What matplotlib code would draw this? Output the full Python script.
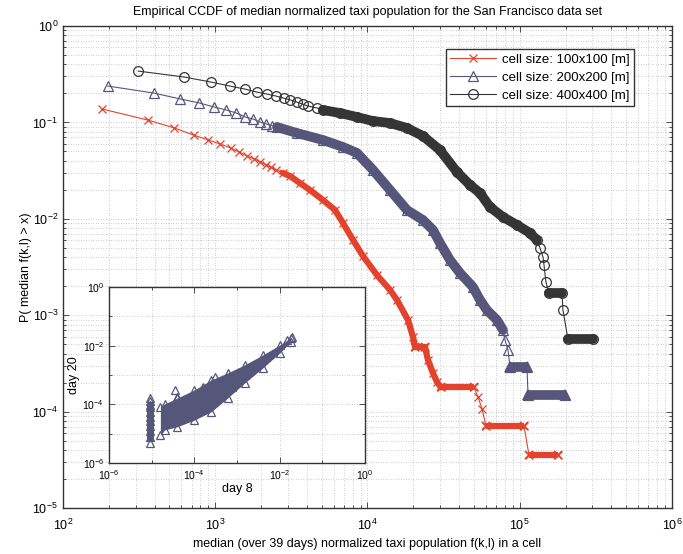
import numpy as np
import matplotlib.pyplot as plt
from matplotlib.ticker import LogLocator, NullFormatter

plt.rcParams['font.family'] = ['Liberation Sans', 'DejaVu Sans']
plt.rcParams['mathtext.fontset'] = 'custom'
plt.rcParams['mathtext.rm'] = 'Liberation Sans'

RED = '#e3422c'
BLUE = '#56567a'
BLACK = '#353535'
GRID = '#8c8c8c'

# CCDF, 100x100 m cells
x100 = [180, 360, 540, 720, 900, 1080, 1260, 1440, 1620, 1800, 1980, 2160, 2340, 2520,
        2786, 3097, 3603, 4190, 5102, 6116, 6904, 8035, 9340, 11540, 14060, 15620, 18460,
        19900, 20500, 23870, 24960, 26920, 28610, 30380, 50070, 53170, 56520, 60000,
        106600, 115000, 178300]
y100 = [0.138, 0.106, 0.0875, 0.074, 0.0657, 0.0597, 0.0543, 0.0494, 0.0448, 0.0418, 0.0388,
        0.0362, 0.0341, 0.0322, 0.0299, 0.0278, 0.0235, 0.0199, 0.01567, 0.01234, 0.00904,
        0.00603, 0.00411, 0.00261, 0.00183, 0.00144, 0.000891, 0.000594, 0.000468, 0.000468,
        0.000343, 0.000251, 0.000203, 0.000178, 0.000178, 0.000142, 0.000107, 7.1e-5,
        7.1e-5, 3.55e-5, 3.55e-5]

# CCDF, 200x200 m cells
x200 = [197, 394, 591, 788, 985, 1182, 1379, 1576, 1773, 1970, 2167, 2364, 2544, 3443,
        5102, 6904, 8531, 10870, 14060, 18170, 23140, 26920, 29920, 34830, 40510, 49310,
        54810, 60920, 70900, 77620, 80000, 83750, 86300, 111600, 113300, 198200]
y200 = [0.2385, 0.2018, 0.175, 0.159, 0.1445, 0.1345, 0.1252, 0.1138, 0.1084, 0.1009,
        0.0962, 0.0925, 0.0896, 0.0776, 0.0657, 0.0556, 0.0482, 0.0321, 0.0199, 0.01234,
        0.00972, 0.00766, 0.00561, 0.00374, 0.00274, 0.00196, 0.00144, 0.00113, 0.000891,
        0.000702, 0.000553, 0.000435, 0.00029, 0.00029, 0.0001486, 0.0001486]

# CCDF, 400x400 m cells
x400 = [312, 624, 936, 1248, 1560, 1872, 2184, 2496, 2808, 3120, 3432, 3744, 4056, 4680,
        5102, 6597, 8531, 10870, 14060, 18170, 23140, 29920, 38700, 47110, 54810, 63760,
        77620, 95920, 116700, 129700, 135800, 142200, 144300, 148600, 155600, 189300,
        192200, 207300, 302700]
y400 = [0.341, 0.296, 0.2625, 0.2385, 0.222, 0.2067, 0.197, 0.188, 0.179, 0.1708, 0.1628,
        0.155, 0.148, 0.141, 0.1345, 0.1252, 0.1138, 0.1034, 0.0986, 0.0875, 0.0723, 0.0517,
        0.0306, 0.02243, 0.01852, 0.01325, 0.01044, 0.00863, 0.00713, 0.00603, 0.00498,
        0.00402, 0.00332, 0.00221, 0.00169, 0.00169, 0.00113, 0.000565, 0.000565]

# day 8 vs day 20 scatter: envelope of the dense cloud
day8_x = [1.6e-5, 2.0e-5, 4e-5, 1e-4, 2.5e-4, 6e-4, 1.5e-3, 4e-3, 1e-2, 1.8e-2]
day20_hi = [8.3e-5, 1.03e-4, 1.64e-4, 3.1e-4, 6.8e-4, 1.17e-3, 2.2e-3, 4.8e-3, 1.05e-2, 1.83e-2]
day20_lo = [9.0e-6, 1.33e-5, 1.73e-5, 2.9e-5, 5.6e-5, 1.64e-4, 5.3e-4, 1.73e-3, 5.6e-3, 1.33e-2]
# lowest populated column and scattered outliers
col_x = 9e-6
col_y = [7.9e-6, 1.2e-5, 1.8e-5, 2.6e-5, 3.8e-5, 5.5e-5, 8e-5, 9.6e-5]
out_x = [9e-6, 9e-6, 9e-6, 3.5e-5, 3.9e-5, 1.6e-4, 3.05e-4, 4.7e-4, 7.6e-4, 1.54e-3, 1.5e-2, 1.95e-2]
out_y = [1.64e-4, 1.3e-4, 4.8e-6, 3.1e-4, 1.78e-4, 3.9e-4, 8.5e-4, 2.44e-4, 3.9e-4, 1e-3, 1.56e-2, 1.98e-2]


def draw_ccdf(ax, x, y, color, marker, ms, band, band_lw, bar_lw, cap, label):
    x = np.asarray(x, float)
    y = np.asarray(y, float)
    ax.plot(x, y, color=color, lw=0.8, marker=marker, ms=ms, mfc='none',
            mec=color, mew=0.9, label=label, zorder=3)
    # where the markers pile up they form a solid band
    lo, hi = band
    ax.plot(x[lo:hi], y[lo:hi], color=color, lw=band_lw,
            solid_capstyle='round', solid_joinstyle='round', zorder=3)
    # flat steps of the CCDF tail
    for i in range(len(x) - 1):
        if y[i] == y[i + 1]:
            ax.plot(x[i:i + 2], y[i:i + 2], color=color, lw=bar_lw,
                    solid_capstyle=cap, zorder=3)
            if cap == 'butt':
                ax.plot(x[i:i + 2], y[i:i + 2], ls='none', marker=marker, ms=ms,
                        mfc=color, mec=color, mew=1.2, zorder=3)


def style_log_axes(ax, labelsize):
    ax.set_xscale('log')
    ax.set_yscale('log')
    ax.grid(True, which='both', color=GRID, lw=0.45, linestyle=(0, (1, 3)))
    ax.tick_params(which='both', direction='in', top=True, right=True,
                   colors='#333333', labelcolor='black', width=0.6)
    ax.tick_params(which='major', length=4, labelsize=labelsize)
    ax.tick_params(which='minor', length=2)
    for s in ax.spines.values():
        s.set_color('#333333')
        s.set_linewidth(1.0)
    ax.set_axisbelow(True)


fig = plt.figure(figsize=(6.83, 5.54), dpi=100)
ax = fig.add_axes([0.0922, 0.0830, 0.8917, 0.8700])
style_log_axes(ax, 9)
ax.tick_params(axis='x', which='major', pad=7)

draw_ccdf(ax, x100, y100, RED, 'x', 5.5, (14, 34), 4.5, 4.5, 'butt', 'cell size: 100x100 [m]')
draw_ccdf(ax, x200, y200, BLUE, '^', 7, (12, 30), 7, 7, 'butt', 'cell size: 200x200 [m]')
draw_ccdf(ax, x400, y400, BLACK, 'o', 7, (14, 30), 7, 7, 'round', 'cell size: 400x400 [m]')

ax.set_xlim(1e2, 1e6)
ax.set_ylim(1e-5, 1e0)
ax.xaxis.set_minor_formatter(NullFormatter())
ax.yaxis.set_minor_formatter(NullFormatter())
ax.set_title('Empirical CCDF of median normalized taxi population for the San Francisco data set',
             fontsize=9, pad=8)
ax.set_xlabel('median (over 39 days) normalized taxi population f(k,l) in a cell', fontsize=9, labelpad=4)
ax.set_ylabel('P( median f(k,l) > x)', fontsize=9, labelpad=0)

leg = ax.legend(loc='upper right', bbox_to_anchor=(0.9376, 0.952), borderaxespad=0,
                fancybox=False, edgecolor='#333333', framealpha=1, fontsize=9.5,
                handlelength=3.5, labelspacing=0.42, borderpad=0.35, handletextpad=0.4,
                numpoints=1)
leg.get_frame().set_linewidth(1.0)

# inset: day 8 against day 20
ins = fig.add_axes([0.1596, 0.1643, 0.3748, 0.3177])
style_log_axes(ins, 7.5)
ins.fill_between(day8_x, day20_lo, day20_hi, color=BLUE, lw=0, zorder=3)
ins.plot([col_x, col_x], [col_y[0], col_y[-1]], color=BLUE, lw=5, zorder=3)
tri = dict(ls='none', marker='^', ms=6, mfc='none', mec=BLUE, mew=0.9, zorder=4)
ins.plot(day8_x, day20_hi, **tri)
ins.plot(day8_x, day20_lo, **tri)
ins.plot([col_x] * len(col_y), col_y, **tri)
ins.plot(out_x, out_y, **tri)
ins.set_xlim(1e-6, 1e0)
ins.set_ylim(1e-6, 1e0)
ins.set_xticks([1e-6, 1e-4, 1e-2, 1e0])
ins.set_yticks([1e-6, 1e-4, 1e-2, 1e0])
ins.xaxis.set_minor_locator(LogLocator(base=10, subs=(1.0,), numticks=20))
ins.yaxis.set_minor_locator(LogLocator(base=10, subs=(1.0,), numticks=20))
ins.xaxis.set_minor_formatter(NullFormatter())
ins.yaxis.set_minor_formatter(NullFormatter())
ins.set_xlabel('day 8', fontsize=9, labelpad=1)
ins.set_ylabel('day 20', fontsize=9, labelpad=2)

fig.savefig('out.png', dpi=100)
